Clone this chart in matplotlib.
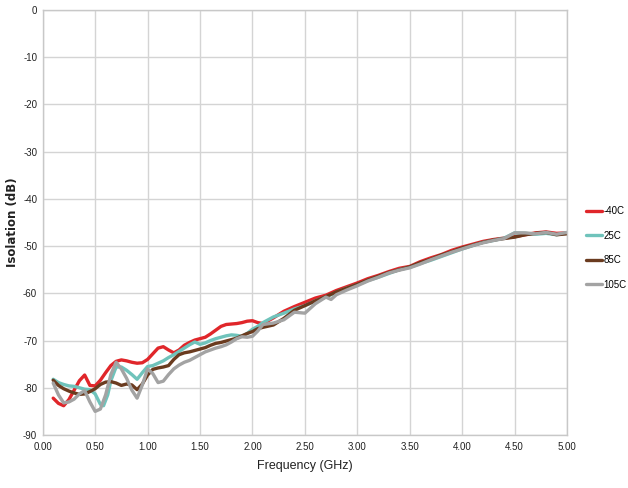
import matplotlib
matplotlib.use("Agg")
import matplotlib.pyplot as plt
from matplotlib import font_manager

names = {f.name for f in font_manager.fontManager.ttflist}
narrow = "Liberation Sans Narrow" if "Liberation Sans Narrow" in names else "Liberation Sans"

labels = ["-40C", "25C", "85C", "105C"]
colors = ["#e0262a", "#6fc3bb", "#6a3b1f", "#a3a3a3"]

f_red = [0.10, 0.15, 0.20, 0.25, 0.30, 0.35, 0.40, 0.45, 0.50, 0.55, 0.60, 0.65, 0.70, 0.75, 0.80, 0.85, 0.90, 0.95,
         1.00, 1.05, 1.10, 1.15, 1.20, 1.25, 1.30, 1.35, 1.40, 1.45, 1.50, 1.55, 1.60, 1.65, 1.70, 1.75, 1.80, 1.85,
         1.90, 1.95, 2.00, 2.05, 2.10, 2.20, 2.30, 2.40, 2.50, 2.60, 2.70, 2.80, 2.90, 3.00, 3.10, 3.20, 3.30, 3.40,
         3.50, 3.60, 3.70, 3.80, 3.90, 4.00, 4.10, 4.20, 4.30, 4.40, 4.50, 4.60, 4.70, 4.80, 4.90, 5.00]
v_red = [-82.2, -83.3, -83.8, -82.5, -80.5, -78.5, -77.3, -79.5, -79.6, -78.4, -76.8, -75.3, -74.4, -74.1, -74.3,
         -74.6, -74.8, -74.7, -74.0, -72.8, -71.6, -71.3, -72.0, -72.6, -72.0, -71.0, -70.4, -69.9, -69.6, -69.3,
         -68.6, -67.8, -67.0, -66.6, -66.5, -66.4, -66.2, -65.9, -65.8, -66.2, -66.4, -65.2, -63.8, -62.8, -61.9,
         -61.0, -60.4, -59.4, -58.6, -57.8, -56.9, -56.2, -55.4, -54.7, -54.3, -53.3, -52.5, -51.8, -50.9, -50.2,
         -49.6, -49.0, -48.6, -48.3, -48.0, -47.6, -47.2, -47.0, -47.3, -47.2]

f_teal = [0.10, 0.15, 0.20, 0.25, 0.30, 0.35, 0.40, 0.45, 0.50, 0.55, 0.58, 0.62, 0.65, 0.70, 0.75, 0.80, 0.85, 0.90,
          0.95, 1.00, 1.05, 1.10, 1.15, 1.20, 1.25, 1.30, 1.35, 1.40, 1.45, 1.50, 1.55, 1.60, 1.65, 1.70, 1.75, 1.80,
          1.85, 1.90, 1.95, 2.00, 2.05, 2.10, 2.20, 2.30, 2.40, 2.50, 2.60, 2.70, 2.80, 2.90, 3.00, 3.10, 3.20, 3.30,
          3.40, 3.50, 3.60, 3.70, 3.80, 3.90, 4.00, 4.10, 4.20, 4.30, 4.40, 4.50, 4.60, 4.70, 4.80, 4.90, 5.00]
v_teal = [-78.2, -78.9, -79.3, -79.6, -79.7, -80.0, -80.3, -80.4, -81.3, -83.5, -83.8, -81.5, -78.5, -75.6, -75.6,
          -76.3, -77.2, -78.2, -76.8, -75.5, -75.3, -74.8, -74.3, -73.6, -73.0, -72.3, -71.6, -70.9, -70.3, -70.8,
          -70.5, -70.0, -69.6, -69.3, -69.0, -68.8, -68.9, -69.1, -68.5, -67.6, -67.0, -66.2, -65.0, -64.2, -63.3,
          -62.6, -61.6, -60.8, -59.8, -58.9, -58.2, -57.3, -56.6, -55.8, -55.0, -54.5, -53.7, -53.0, -52.2, -51.4,
          -50.6, -49.9, -49.2, -48.8, -48.3, -47.2, -47.3, -47.5, -47.3, -47.6, -47.2]

f_brown = [0.10, 0.15, 0.20, 0.25, 0.30, 0.35, 0.40, 0.45, 0.50, 0.55, 0.60, 0.65, 0.70, 0.75, 0.80, 0.85, 0.90, 0.95,
           1.00, 1.05, 1.10, 1.15, 1.20, 1.25, 1.30, 1.35, 1.40, 1.45, 1.50, 1.55, 1.60, 1.65, 1.70, 1.75, 1.80, 1.85,
           1.90, 1.95, 2.00, 2.05, 2.10, 2.20, 2.30, 2.40, 2.50, 2.60, 2.70, 2.80, 2.90, 3.00, 3.10, 3.20, 3.30, 3.40,
           3.50, 3.60, 3.70, 3.80, 3.90, 4.00, 4.10, 4.20, 4.30, 4.40, 4.50, 4.60, 4.70, 4.80, 4.90, 5.00]
v_brown = [-78.4, -79.5, -80.2, -80.7, -81.1, -81.4, -81.3, -80.8, -80.2, -79.3, -78.8, -78.7, -79.0, -79.5, -79.2,
           -79.4, -80.4, -79.2, -77.3, -76.1, -75.8, -75.6, -75.3, -74.0, -73.0, -72.6, -72.4, -72.1, -71.8, -71.5,
           -71.0, -70.6, -70.4, -70.1, -69.8, -69.5, -69.0, -68.5, -68.1, -67.5, -67.2, -66.7, -65.3, -63.6, -62.6,
           -61.6, -60.7, -59.7, -58.9, -58.1, -57.2, -56.4, -55.6, -55.0, -54.4, -53.5, -52.8, -51.9, -51.2, -50.4,
           -49.8, -49.2, -48.7, -48.4, -48.1, -47.6, -47.3, -47.1, -47.6, -47.4]

f_gray = [0.10, 0.15, 0.20, 0.25, 0.30, 0.35, 0.40, 0.45, 0.50, 0.55, 0.60, 0.65, 0.70, 0.75, 0.80, 0.85, 0.90, 0.95,
          1.00, 1.05, 1.10, 1.15, 1.20, 1.25, 1.30, 1.35, 1.40, 1.45, 1.50, 1.55, 1.60, 1.65, 1.70, 1.75, 1.80, 1.85,
          1.90, 1.95, 2.00, 2.05, 2.10, 2.20, 2.30, 2.40, 2.50, 2.60, 2.70, 2.75, 2.80, 2.90, 3.00, 3.10, 3.20, 3.30,
          3.40, 3.50, 3.60, 3.70, 3.80, 3.90, 4.00, 4.10, 4.20, 4.30, 4.40, 4.50, 4.60, 4.70, 4.80, 4.90, 5.00]
v_gray = [-79.0, -81.5, -83.2, -83.0, -82.4, -81.3, -80.6, -83.0, -85.0, -84.5, -81.5, -77.2, -74.6, -76.0, -78.0,
          -80.5, -82.2, -79.4, -76.0, -77.0, -78.9, -78.6, -77.2, -76.0, -75.2, -74.6, -74.2, -73.6, -73.0, -72.4,
          -72.0, -71.6, -71.3, -70.9, -70.3, -69.6, -69.2, -69.3, -69.1, -68.0, -66.6, -66.3, -65.6, -64.0, -64.2,
          -62.2, -60.8, -61.3, -60.3, -59.3, -58.4, -57.4, -56.6, -55.7, -55.1, -54.6, -53.8, -52.9, -52.1, -51.3,
          -50.6, -49.9, -49.3, -48.8, -48.4, -47.2, -47.2, -47.4, -47.1, -47.5, -47.1]

series = [(f_red, v_red), (f_teal, v_teal), (f_brown, v_brown), (f_gray, v_gray)]

x_ticks = [0.0, 0.5, 1.0, 1.5, 2.0, 2.5, 3.0, 3.5, 4.0, 4.5, 5.0]
x_ticklabels = ["0.00", "0.50", "1.00", "1.50", "2.00", "2.50", "3.00", "3.50", "4.00", "4.50", "5.00"]
y_ticks = [0, -10, -20, -30, -40, -50, -60, -70, -80, -90]
y_ticklabels = ["0", "-10", "-20", "-30", "-40", "-50", "-60", "-70", "-80", "-90"]

fig = plt.figure(figsize=(6.28, 4.88), dpi=100)
ax = fig.add_axes([0.068, 0.1086, 0.835, 0.871])

for (f, v), c, lab in zip(series, colors, labels):
    ax.plot(f, v, color=c, lw=2.4, label=lab, solid_capstyle="round", solid_joinstyle="round")

ax.set_xlim(0, 5)
ax.set_ylim(-90, 0)
ax.set_xticks(x_ticks)
ax.set_xticklabels(x_ticklabels)
ax.set_yticks(y_ticks)
ax.set_yticklabels(y_ticklabels)
ax.grid(True, color="#d4d4d4", lw=1.0)
ax.set_axisbelow(True)
for s in ax.spines.values():
    s.set_color("#c8c8c8")
    s.set_linewidth(1.0)
ax.tick_params(axis="y", length=0, pad=4, labelsize=7, labelcolor="#222222")
ax.tick_params(axis="x", length=0, pad=5, labelsize=7, labelcolor="#222222")
for t in ax.get_xticklabels() + ax.get_yticklabels():
    t.set_fontfamily(narrow)

ax.set_xlabel("Frequency (GHz)", fontsize=9, family=narrow, color="#222222", labelpad=6)
ax.set_ylabel("Isolation (dB)", fontsize=8.5, fontweight="bold", color="#222222", labelpad=3)

leg = ax.legend(loc="center left", bbox_to_anchor=(1.02, 0.44), frameon=False,
                handlelength=1.6, handletextpad=0.15, labelspacing=1.5,
                prop={"family": narrow, "size": 7})
for h in leg.get_lines():
    h.set_linewidth(2.4)

fig.savefig("out.png", dpi=100)
